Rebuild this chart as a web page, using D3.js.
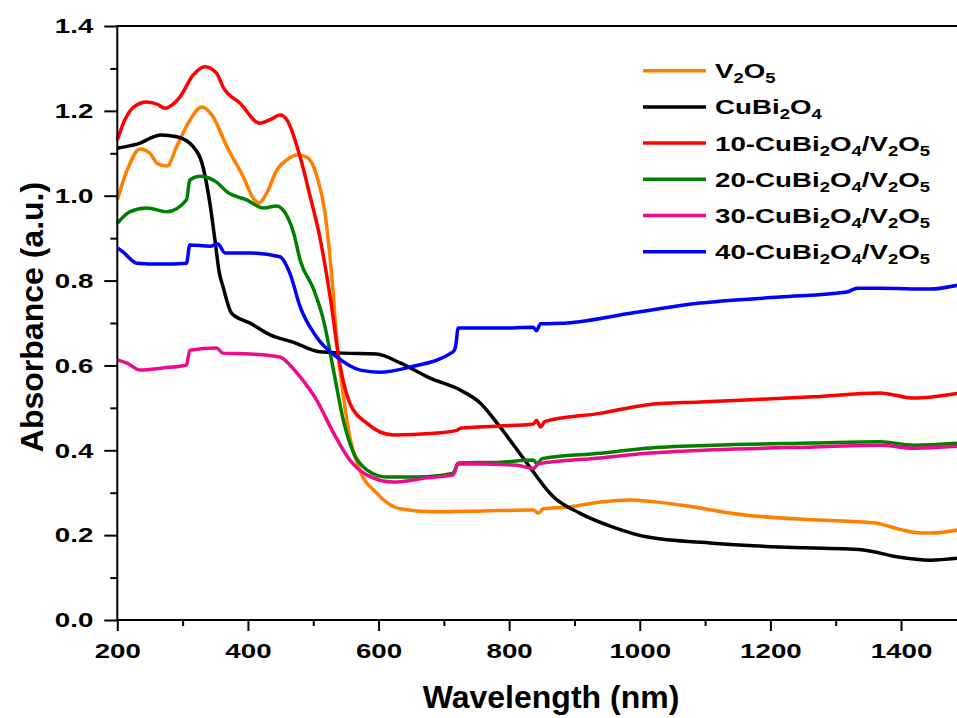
<!DOCTYPE html>
<html lang="en">
<head>
  <meta charset="UTF-8">
  <script src="https://cdnjs.cloudflare.com/ajax/libs/d3/7.8.5/d3.min.js"></script>
  <title>Absorbance</title>
  <style>
    body { margin: 0; background: #fff; }
    text { font-family: Arial, "Liberation Sans", sans-serif; font-weight: bold; fill: #000; }
  </style>
</head>
<body>
  <script>
      // chart data (wavelength in nm, absorbance in a.u.)
      var v2o5Nm  = [200,215,235,250,262,276,292,310,329,345,368,393,410,417,430,444,460,475,490,506,518,529,537,546,556,571,597,633,684,760,837,845,852,889,940,985,1020,1062,1164,1266,1358,1400,1419,1445,1490];
      var v2o5Abs = [0.99,1.06,1.11,1.10,1.075,1.07,1.12,1.175,1.209,1.19,1.115,1.044,0.99,0.983,1.01,1.06,1.085,1.096,1.091,1.044,0.959,0.80,0.643,0.53,0.431,0.354,0.299,0.262,0.255,0.257,0.259,0.252,0.262,0.266,0.278,0.283,0.279,0.271,0.247,0.236,0.229,0.213,0.207,0.205,0.213];

      var cbNm  = [200,220,235,250,266,291,316,332,342,350,356,362,375,403,434,469,510,546,597,633,679,725,756,786,827,868,908,959,1010,1112,1214,1342,1393,1445,1490];
      var cbAbs = [1.112,1.118,1.124,1.135,1.143,1.139,1.116,1.063,0.98,0.89,0.82,0.785,0.723,0.700,0.672,0.655,0.632,0.629,0.627,0.606,0.570,0.542,0.511,0.455,0.370,0.290,0.252,0.219,0.196,0.181,0.172,0.165,0.149,0.141,0.146];

      var c10Nm  = [200,212,225,245,262,273,285,296,316,334,352,362,388,418,435,449,460,480,495,510,526,541,556,582,623,684,720,725,786,837,842,848,855,939,1010,1092,1266,1368,1419,1490];
      var c10Abs = [1.131,1.18,1.209,1.221,1.215,1.206,1.215,1.233,1.284,1.304,1.289,1.256,1.218,1.171,1.18,1.19,1.178,1.091,1.0,0.903,0.761,0.60,0.511,0.464,0.436,0.44,0.447,0.452,0.457,0.462,0.470,0.455,0.468,0.487,0.507,0.514,0.526,0.535,0.523,0.535];

      var c20Nm  = [200,219,245,276,306,311,327,352,368,398,424,444,456,470,480,501,516,531,546,562,582,613,659,714,722,786,837,843,850,939,1010,1112,1266,1368,1419,1490];
      var c20Abs = [0.935,0.962,0.971,0.962,0.99,1.037,1.046,1.032,1.009,0.99,0.971,0.976,0.962,0.912,0.848,0.778,0.705,0.589,0.471,0.393,0.354,0.337,0.337,0.346,0.370,0.372,0.377,0.368,0.380,0.393,0.405,0.412,0.417,0.42,0.412,0.417];

      var c30Nm  = [200,214,235,270,306,311,352,362,403,449,465,480,505,531,556,582,623,674,714,722,812,837,845,939,1010,1112,1266,1368,1419,1490];
      var c30Abs = [0.613,0.606,0.589,0.594,0.601,0.636,0.641,0.629,0.627,0.62,0.60,0.573,0.519,0.441,0.377,0.342,0.325,0.335,0.342,0.368,0.365,0.357,0.368,0.382,0.393,0.401,0.408,0.412,0.405,0.41];

      var c40Nm  = [200,209,230,266,306,311,342,354,365,403,449,464,480,505,536,572,602,648,714,718,722,786,837,842,848,888,990,1092,1214,1317,1333,1368,1445,1490];
      var c40Abs = [0.877,0.867,0.841,0.839,0.841,0.884,0.881,0.886,0.865,0.865,0.856,0.818,0.738,0.667,0.620,0.589,0.584,0.596,0.632,0.645,0.688,0.688,0.69,0.682,0.698,0.70,0.724,0.747,0.761,0.773,0.782,0.782,0.780,0.79];

      var seriesNames  = ["V_2O_5", "CuBi_2O_4", "10-CuBi_2O_4/V_2O_5", "20-CuBi_2O_4/V_2O_5", "30-CuBi_2O_4/V_2O_5", "40-CuBi_2O_4/V_2O_5"];
      var seriesColors = ["#FF8000", "#000000", "#FF0000", "#008000", "#EE0A8C", "#0000FF"];
      var xTicks = [200, 400, 600, 800, 1000, 1200, 1400];
      var yTicks = [0.0, 0.2, 0.4, 0.6, 0.8, 1.0, 1.2, 1.4];

      var series = [[v2o5Nm, v2o5Abs], [cbNm, cbAbs], [c10Nm, c10Abs], [c20Nm, c20Abs], [c30Nm, c30Abs], [c40Nm, c40Abs]]
        .map(function(s, i){
          return { name: seriesNames[i], color: seriesColors[i],
                   values: s[0].map(function(nm, j){ return {nm: nm, a: s[1][j]}; }) };
        });

      var width = 957, height = 718;
      var plotL = 117.3, plotR = 959.8, plotT = 26, plotB = 620;
      var stretch = 1.32;   // tick and legend text is drawn wide

      var x = d3.scaleLinear().domain([200, 1490]).range([plotL, plotR]);
      var y = d3.scaleLinear().domain([0, 1.4]).range([plotB, plotT]);

      var svg = d3.select("body").append("svg")
        .attr("width", width)
        .attr("height", height);

      // series lines
      var line = d3.line()
        .x(function(d){ return x(d.nm); })
        .y(function(d){ return y(d.a); })
        .curve(d3.curveMonotoneX);

      svg.append("g").selectAll("path").data(series).enter()
        .append("path")
        .attr("d", function(d){ return line(d.values); })
        .attr("fill", "none")
        .attr("stroke", function(d){ return d.color; })
        .attr("stroke-width", 3.5)
        .attr("stroke-linejoin", "round");

      // minor ticks
      svg.append("g").attr("transform", "translate(0," + plotB + ")")
        .call(d3.axisBottom(x).tickValues(d3.range(300, 1500, 200)).tickSize(6).tickFormat(""))
        .call(function(g){ g.select(".domain").remove(); g.selectAll("text").remove(); g.selectAll("line").attr("stroke-width", 2); });
      svg.append("g").attr("transform", "translate(" + plotL + ",0)")
        .call(d3.axisLeft(y).tickValues([0.1, 0.3, 0.5, 0.7, 0.9, 1.1, 1.3]).tickSize(7).tickFormat(""))
        .call(function(g){ g.select(".domain").remove(); g.selectAll("text").remove(); g.selectAll("line").attr("stroke-width", 2); });

      // major axes
      var xAxis = svg.append("g").attr("transform", "translate(0," + plotB + ")")
        .call(d3.axisBottom(x).tickValues(xTicks).tickSize(11).tickPadding(12).tickFormat(d3.format("d")));
      var yAxis = svg.append("g").attr("transform", "translate(" + plotL + ",0)")
        .call(d3.axisLeft(y).tickValues(yTicks).tickSize(13).tickPadding(11).tickFormat(d3.format(".1f")));

      [xAxis, yAxis].forEach(function(g){
        g.select(".domain").remove();
        g.selectAll("line").attr("stroke-width", 2);
        g.selectAll("text").attr("font-size", 21).attr("fill", "#000")
          .style("font-family", "Arial, 'Liberation Sans', sans-serif");
      });
      xAxis.selectAll("text").attr("transform", "scale(" + stretch + ",1)").attr("dy", "0.71em");
      yAxis.selectAll("text").attr("x", null).attr("transform", "translate(-24,0) scale(" + stretch + ",1)");

      // frame
      svg.append("rect")
        .attr("x", plotL).attr("y", plotT)
        .attr("width", plotR - plotL).attr("height", plotB - plotT)
        .attr("fill", "none").attr("stroke", "#000").attr("stroke-width", 2);

      // axis titles
      svg.append("text")
        .attr("x", 551).attr("y", 708)
        .attr("text-anchor", "middle")
        .attr("font-size", 32)
        .text("Wavelength (nm)");

      svg.append("text")
        .attr("transform", "translate(43,317) rotate(-90)")
        .attr("text-anchor", "middle")
        .attr("font-size", 32)
        .text("Absorbance (a.u.)");

      // legend
      var legend = svg.append("g").selectAll("g").data(series).enter()
        .append("g")
        .attr("transform", function(d, i){ return "translate(643," + (70.7 + i * 36.2) + ")"; });

      legend.append("line")
        .attr("x1", 0).attr("x2", 63)
        .attr("stroke", function(d){ return d.color; })
        .attr("stroke-width", 3.5);

      legend.append("text")
        .attr("transform", "translate(72,7.5) scale(" + stretch + ",1)")
        .attr("font-size", 21)
        .each(function(d){
          var t = d3.select(this);
          var parts = d.name.split(/_(\d)/);
          var shifted = 0;
          parts.forEach(function(p, k){
            if (p === "") return;
            var ts = t.append("tspan").text(p);
            if (k % 2 === 1) {
              ts.attr("font-size", 14).attr("dy", 5 - shifted);
              shifted = 5;
            } else if (shifted) {
              ts.attr("dy", -shifted);
              shifted = 0;
            }
          });
        });
  </script>
</body>
</html>
